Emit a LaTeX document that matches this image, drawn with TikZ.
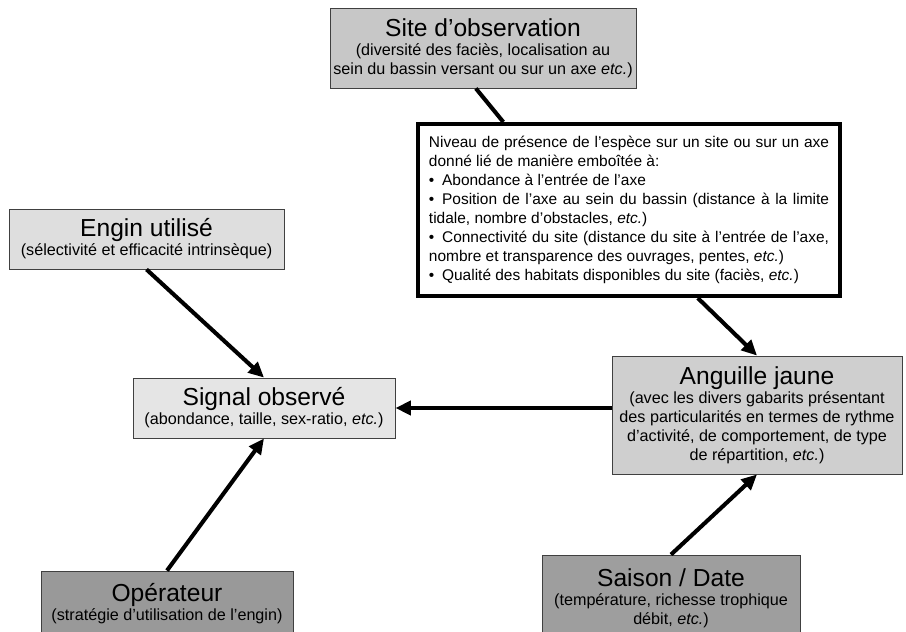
\documentclass[tikz,border=0pt]{standalone}
\usepackage{fontspec}
\setmainfont{Liberation Sans}
\usetikzlibrary{arrows.meta}

\newcommand{\titre}[1]{{\fontsize{17.5}{20}\selectfont #1}}
\newcommand{\puce}{•\enspace}

\begin{document}
\begin{tikzpicture}[x=0.025cm, y=-0.025cm,
    box/.style={draw=black!75, line width=0.6pt, align=center, inner sep=0pt,
      font=\fontsize{11.5}{13.5}\selectfont},
    conn/.style={line width=2.9pt, -{Triangle[length=11pt,width=10pt]}}]

    \useasboundingbox (0,0) rectangle (906,631);

    \node [box, fill=black!22, minimum width=7.65cm, minimum height=2cm] (site) at (483, 48)
      {\titre{Site d’observation}\\(diversité des faciès, localisation au\\sein du bassin versant ou sur un axe \textit{etc.})};
    \node [box, draw=black, line width=2.8pt, align=justify, text width=10cm,
      inner xsep=0.28cm, minimum height=4.3cm, font=\fontsize{11}{13.5}\selectfont] (niveau) at (629, 210)
      {Niveau de présence de l’espèce sur un site ou sur un axe donné lié de manière emboîtée à:\\
       \puce Abondance à l’entrée de l’axe\\
       \puce Position de l’axe au sein du bassin (distance à la limite tidale, nombre d’obstacles, \textit{etc.})\\
       \puce Connectivité du site (distance du site à l’entrée de l’axe, nombre et transparence des ouvrages, pentes, \textit{etc.})\\
       \puce Qualité des habitats disponibles du site (faciès, \textit{etc.})};
    \node [box, fill=black!13, minimum width=6.875cm, minimum height=1.5cm] (engin) at (146.5, 239)
      {\titre{Engin utilisé}\\(sélectivité et efficacité intrinsèque)};
    \node [box, fill=black!10, minimum width=6.55cm, minimum height=1.5cm] (signal) at (264, 408)
      {\titre{Signal observé}\\(abondance, taille, sex-ratio, \textit{etc.})};
    \node [box, fill=black!19, minimum width=7.25cm, minimum height=2.95cm] (anguille) at (757, 415)
      {\titre{Anguille jaune}\\(avec les divers gabarits présentant\\des particularités en termes de rythme\\d’activité, de comportement, de type\\de répartition, \textit{etc.})};
    \node [box, fill=black!40, minimum width=6.3cm, minimum height=1.65cm] (operateur) at (167, 604)
      {\titre{Opérateur}\\(stratégie d’utilisation de l'engin)};
    \node [box, fill=black!38, minimum width=6.45cm, minimum height=2.15cm] (saison) at (671, 598)
      {\titre{Saison / Date}\\(température, richesse trophique\\débit, \textit{etc.})};

    \draw [line width=2.9pt] (site.-100) to (niveau.145);
    \draw [conn] (niveau.-52) to (anguille.north);
    \draw [conn] (engin.south) to (signal.north);
    \draw [conn] (signal.east -| anguille.west) to (signal.east);
    \draw [conn] (operateur.north) to (signal.south);
    \draw [conn] (saison.north) to (anguille.south);

\end{tikzpicture}
\end{document}
